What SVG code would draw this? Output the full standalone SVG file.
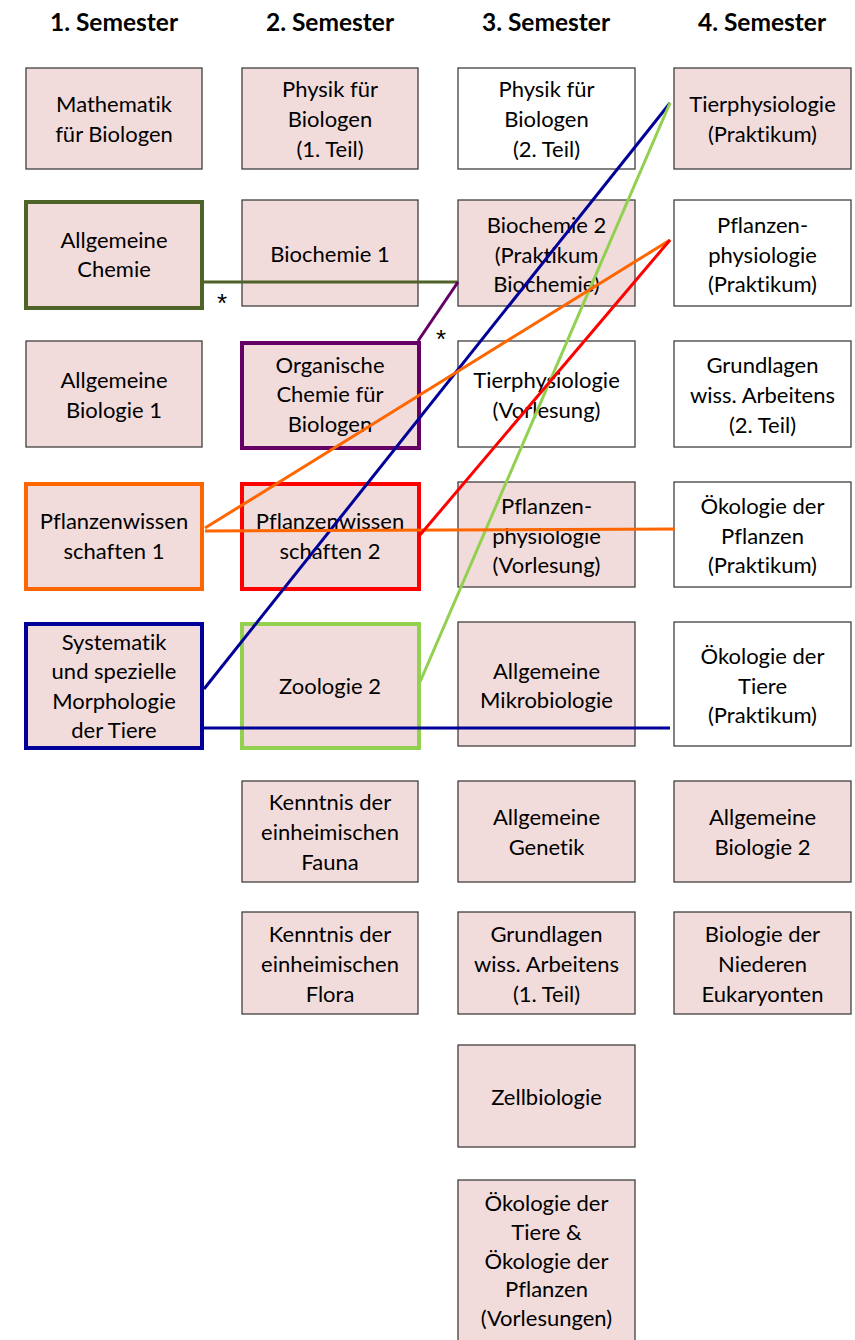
<svg xmlns="http://www.w3.org/2000/svg" width="855" height="1340" viewBox="0 0 855 1340">
<style>
.hd{font-family:Lato,"Open Sans","Liberation Sans",sans-serif;font-weight:bold;font-size:24.5px;fill:#000;text-anchor:middle;font-variant-ligatures:none}
.t{font-family:Lato,"Open Sans","Liberation Sans",sans-serif;font-size:22px;fill:#000;text-anchor:middle;font-variant-ligatures:none}
.p{fill:#f2dcdb;stroke:#404040;stroke-width:1.3}
.w{fill:#ffffff;stroke:#404040;stroke-width:1.3}
.k{stroke-width:4}
.c{fill:none;stroke-width:3}
.ast{font-family:"Liberation Sans",sans-serif;font-size:26px;fill:#000;text-anchor:middle}
</style>
<rect width="855" height="1340" fill="#ffffff"/>
<g id="headers">
<text class="hd" x="114" y="31">1. Semester</text>
<text class="hd" x="330" y="31">2. Semester</text>
<text class="hd" x="546" y="31">3. Semester</text>
<text class="hd" x="762" y="31">4. Semester</text>
</g>
<g id="nodes">
<g id="mathe"><rect class="p" x="26" y="68" width="176" height="101"/><text class="t"><tspan x="114" y="112">Mathematik</tspan><tspan x="114" y="142">für Biologen</tspan></text></g>
<g id="allgchemie"><rect class="p k" x="26" y="202" width="176" height="106" style="stroke:#4f6228"/><text class="t"><tspan x="114" y="248">Allgemeine</tspan><tspan x="114" y="277">Chemie</tspan></text></g>
<g id="allgbio1"><rect class="p" x="26" y="341" width="176" height="106"/><text class="t"><tspan x="114" y="388">Allgemeine</tspan><tspan x="114" y="418">Biologie 1</tspan></text></g>
<g id="pflw1"><rect class="p k" x="26" y="484" width="176" height="105" style="stroke:#ff6600"/><text class="t"><tspan x="114" y="529">Pflanzenwissen</tspan><tspan x="114" y="559">schaften 1</tspan></text></g>
<g id="systematik"><rect class="p k" x="26" y="624" width="176" height="124" style="stroke:#000099"/><text class="t"><tspan x="114" y="650">Systematik</tspan><tspan x="114" y="679">und spezielle</tspan><tspan x="114" y="709">Morphologie</tspan><tspan x="114" y="738">der Tiere</tspan></text></g>

<g id="physik1"><rect class="p" x="242" y="68" width="176" height="101"/><text class="t"><tspan x="330" y="97">Physik für</tspan><tspan x="330" y="127">Biologen</tspan><tspan x="330" y="157">(1. Teil)</tspan></text></g>
<g id="biochemie1"><rect class="p" x="242" y="200" width="176" height="106"/><text class="t"><tspan x="330" y="262">Biochemie 1</tspan></text></g>
<g id="orgchemie"><rect class="p k" x="242" y="343" width="177" height="105" style="stroke:#660066"/><text class="t"><tspan x="330" y="373">Organische</tspan><tspan x="330" y="402">Chemie für</tspan><tspan x="330" y="432">Biologen</tspan></text></g>
<g id="pflw2"><rect class="p k" x="242" y="484" width="177" height="105" style="stroke:#ff0000"/><text class="t"><tspan x="330" y="529">Pflanzenwissen</tspan><tspan x="330" y="559">schaften 2</tspan></text></g>
<g id="zoologie2"><rect class="p k" x="242" y="624" width="177" height="124" style="stroke:#92d050"/><text class="t"><tspan x="330" y="694">Zoologie 2</tspan></text></g>
<g id="fauna"><rect class="p" x="242" y="781" width="176" height="101"/><text class="t"><tspan x="330" y="810">Kenntnis der</tspan><tspan x="330" y="840">einheimischen</tspan><tspan x="330" y="870">Fauna</tspan></text></g>
<g id="flora"><rect class="p" x="242" y="912" width="176" height="102"/><text class="t"><tspan x="330" y="942">Kenntnis der</tspan><tspan x="330" y="972">einheimischen</tspan><tspan x="330" y="1002">Flora</tspan></text></g>

<g id="physik2"><rect class="w" x="458" y="68" width="177" height="101"/><text class="t"><tspan x="546.5" y="97">Physik für</tspan><tspan x="546.5" y="127">Biologen</tspan><tspan x="546.5" y="157">(2. Teil)</tspan></text></g>
<g id="biochemie2"><rect class="p" x="458" y="200" width="177" height="106"/><text class="t"><tspan x="546.5" y="233">Biochemie 2</tspan><tspan x="546.5" y="263">(Praktikum</tspan><tspan x="546.5" y="292">Biochemie)</tspan></text></g>
<g id="tierphysv"><rect class="w" x="458" y="341" width="177" height="106"/><text class="t"><tspan x="546.5" y="388">Tierphysiologie</tspan><tspan x="546.5" y="418">(Vorlesung)</tspan></text></g>
<g id="pflphysv"><rect class="p" x="458" y="482" width="177" height="105"/><text class="t"><tspan x="546.5" y="514">Pflanzen-</tspan><tspan x="546.5" y="544">physiologie</tspan><tspan x="546.5" y="573">(Vorlesung)</tspan></text></g>
<g id="mikrobio"><rect class="p" x="458" y="622" width="177" height="124"/><text class="t"><tspan x="546.5" y="679">Allgemeine</tspan><tspan x="546.5" y="708">Mikrobiologie</tspan></text></g>
<g id="genetik"><rect class="p" x="458" y="781" width="177" height="101"/><text class="t"><tspan x="546.5" y="825">Allgemeine</tspan><tspan x="546.5" y="855">Genetik</tspan></text></g>
<g id="grundlagen1"><rect class="p" x="458" y="912" width="177" height="102"/><text class="t"><tspan x="546.5" y="942">Grundlagen</tspan><tspan x="546.5" y="972">wiss. Arbeitens</tspan><tspan x="546.5" y="1002">(1. Teil)</tspan></text></g>
<g id="zellbio"><rect class="p" x="458" y="1045" width="177" height="102"/><text class="t"><tspan x="546.5" y="1105">Zellbiologie</tspan></text></g>
<g id="oekov"><rect class="p" x="458" y="1180" width="177" height="170"/><text class="t"><tspan x="546.5" y="1211">Ökologie der</tspan><tspan x="546.5" y="1240">Tiere &amp;</tspan><tspan x="546.5" y="1269">Ökologie der</tspan><tspan x="546.5" y="1297">Pflanzen</tspan><tspan x="546.5" y="1326">(Vorlesungen)</tspan></text></g>

<g id="tierphysp"><rect class="p" x="674" y="68" width="177" height="101"/><text class="t"><tspan x="762.5" y="112">Tierphysiologie</tspan><tspan x="762.5" y="142">(Praktikum)</tspan></text></g>
<g id="pflphysp"><rect class="w" x="674" y="200" width="177" height="106"/><text class="t"><tspan x="762.5" y="233">Pflanzen-</tspan><tspan x="762.5" y="263">physiologie</tspan><tspan x="762.5" y="292">(Praktikum)</tspan></text></g>
<g id="grundlagen2"><rect class="w" x="674" y="341" width="177" height="106"/><text class="t"><tspan x="762.5" y="373">Grundlagen</tspan><tspan x="762.5" y="403">wiss. Arbeitens</tspan><tspan x="762.5" y="433">(2. Teil)</tspan></text></g>
<g id="oekopfl"><rect class="w" x="674" y="482" width="177" height="105"/><text class="t"><tspan x="762.5" y="514">Ökologie der</tspan><tspan x="762.5" y="544">Pflanzen</tspan><tspan x="762.5" y="573">(Praktikum)</tspan></text></g>
<g id="oekotiere"><rect class="w" x="674" y="622" width="177" height="124"/><text class="t"><tspan x="762.5" y="664">Ökologie der</tspan><tspan x="762.5" y="694">Tiere</tspan><tspan x="762.5" y="723">(Praktikum)</tspan></text></g>
<g id="allgbio2"><rect class="p" x="674" y="781" width="177" height="101"/><text class="t"><tspan x="762.5" y="825">Allgemeine</tspan><tspan x="762.5" y="855">Biologie 2</tspan></text></g>
<g id="eukaryonten"><rect class="p" x="674" y="912" width="177" height="102"/><text class="t"><tspan x="762.5" y="942">Biologie der</tspan><tspan x="762.5" y="972">Niederen</tspan><tspan x="762.5" y="1002">Eukaryonten</tspan></text></g>
</g>
<g id="connectors">
<line class="c" x1="204" y1="282" x2="458" y2="282" stroke="#4f6228"/>
<line class="c" x1="418" y1="341" x2="458" y2="282" stroke="#660066"/>
<line class="c" x1="204" y1="689" x2="670" y2="103" stroke="#000099"/>
<line class="c" x1="204" y1="728" x2="670" y2="728" stroke="#000099"/>
<line class="c" x1="420" y1="682" x2="670" y2="103" stroke="#92d050"/>
<line class="c" x1="205" y1="528" x2="670" y2="240" stroke="#ff6600"/>
<line class="c" x1="205" y1="531" x2="675" y2="529" stroke="#ff6600"/>
<line class="c" x1="420" y1="535" x2="670" y2="240" stroke="#ff0000"/>
<text class="ast" x="222" y="312">*</text>
<text class="ast" x="441" y="348">*</text>
</g>
</svg>
